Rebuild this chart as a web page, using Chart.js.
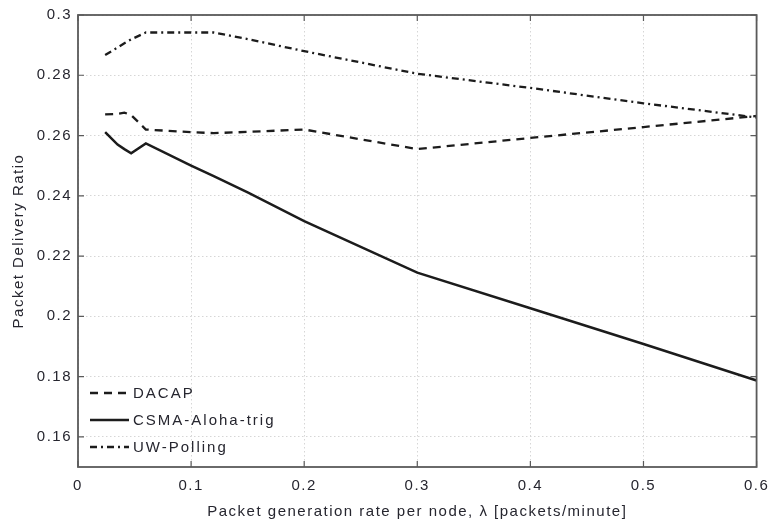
<!DOCTYPE html>
<html>
<head>
<meta charset="utf-8">
<title>Packet Delivery Ratio</title>
<script src="https://cdn.jsdelivr.net/npm/chart.js@4.4.1/dist/chart.umd.min.js"></script>
<style>
  html, body { margin: 0; padding: 0; background: #fff; }
  #wrap { width: 777px; height: 525px; }
</style>
</head>
<body>
<div id="wrap"><canvas id="pdrChart" width="777" height="525"></canvas></div>
<script>
// lambda values (packets/minute) where the curves were sampled
const lambdaValues = [0.024, 0.035, 0.041, 0.047, 0.06, 0.1, 0.12, 0.15, 0.2, 0.3, 0.4, 0.5, 0.6];

const dacapValues = [0.267, 0.2672, 0.2676, 0.2668, 0.262, 0.2611, 0.2608, 0.2612, 0.262, 0.2555, 0.2592, 0.2628, 0.2665];
const csmaValues = [0.2611, 0.257, 0.2555, 0.2541, 0.2574, 0.25, 0.2465, 0.2411, 0.2316, 0.2145, 0.2027, 0.1908, 0.1787];
const pollingValues = [0.2867, 0.2892, 0.2906, 0.2919, 0.2942, 0.2942, 0.2942, 0.292, 0.288, 0.2805, 0.2758, 0.2707, 0.266];

const seriesLabels = ["DACAP", "CSMA-Aloha-trig", "UW-Polling"];

const xTicks = [0, 0.1, 0.2, 0.3, 0.4, 0.5, 0.6];
const yTicks = [0.16, 0.18, 0.2, 0.22, 0.24, 0.26, 0.28, 0.3];

const LINE = "#1c1c1c";
const TEXT = "#26262f";
const FONT = "'Liberation Sans', Arial, sans-serif";

const toPoints = (vals) => lambdaValues.map((x, i) => ({ x, y: vals[i] }));

// matlab-ish box with inward tick marks + legend in the lower-left corner
const boxPlugin = {
  id: "box",
  beforeDraw(chart) {
    chart.ctx.letterSpacing = "1.5px";
  },
  afterDraw(chart) {
    const { ctx, chartArea: a, scales } = chart;
    ctx.save();
    ctx.letterSpacing = "0px";
    ctx.strokeStyle = "#5a5a5a";
    ctx.lineWidth = 1.8;
    ctx.strokeRect(a.left, a.top, a.right - a.left, a.bottom - a.top);

    const tl = 6;
    ctx.lineWidth = 1.2;
    ctx.beginPath();
    xTicks.forEach((v) => {
      const px = scales.x.getPixelForValue(v);
      ctx.moveTo(px, a.bottom);
      ctx.lineTo(px, a.bottom - tl);
      ctx.moveTo(px, a.top);
      ctx.lineTo(px, a.top + tl);
    });
    yTicks.forEach((v) => {
      const py = scales.y.getPixelForValue(v);
      ctx.moveTo(a.left, py);
      ctx.lineTo(a.left + tl, py);
      ctx.moveTo(a.right, py);
      ctx.lineTo(a.right - tl, py);
    });
    ctx.stroke();

    // legend
    const rows = [393, 420, 447];
    ctx.font = "15px " + FONT;
    ctx.letterSpacing = "2px";
    ctx.textBaseline = "middle";
    ctx.fillStyle = TEXT;
    chart.data.datasets.forEach((ds, i) => {
      const y = rows[i];
      ctx.save();
      ctx.strokeStyle = ds.borderColor;
      ctx.lineWidth = ds.borderWidth;
      ctx.setLineDash(ds.borderDash || []);
      ctx.beginPath();
      ctx.moveTo(90, y);
      ctx.lineTo(129, y);
      ctx.stroke();
      ctx.restore();
      ctx.fillText(ds.label, 133, y + 1);
    });
    ctx.restore();
  },
};

const ctx = document.getElementById("pdrChart");

new Chart(ctx, {
  type: "line",
  data: {
    datasets: [
      {
        label: seriesLabels[0],
        data: toPoints(dacapValues),
        borderColor: LINE,
        borderWidth: 2.3,
        borderDash: [8, 6],
        pointRadius: 0,
        tension: 0,
      },
      {
        label: seriesLabels[1],
        data: toPoints(csmaValues),
        borderColor: LINE,
        borderWidth: 2.5,
        pointRadius: 0,
        tension: 0,
      },
      {
        label: seriesLabels[2],
        data: toPoints(pollingValues),
        borderColor: LINE,
        borderWidth: 2.3,
        borderDash: [7, 4, 2, 4],
        pointRadius: 0,
        tension: 0,
      },
    ],
  },
  options: {
    responsive: false,
    animation: false,
    devicePixelRatio: 1,
    layout: { padding: { left: 0, right: 15, top: 15, bottom: 0 } },
    plugins: {
      legend: { display: false },
      tooltip: { enabled: false },
    },
    scales: {
      x: {
        type: "linear",
        min: 0,
        max: 0.6,
        afterBuildTicks: (axis) => { axis.ticks = xTicks.map((v) => ({ value: v })); },
        afterFit: (axis) => { axis.height = 58; },
        ticks: {
          color: TEXT,
          font: { family: FONT, size: 15 },
          padding: 10,
          maxRotation: 0,
          callback: (v) => String(v),
        },
        grid: { color: "#d6d6d6", drawTicks: false, lineWidth: 1 },
        border: { display: false, dash: [1.5, 2.5] },
        title: {
          display: true,
          text: "Packet generation rate per node, \u03bb [packets/minute]",
          color: TEXT,
          font: { family: FONT, size: 15 },
          padding: { top: 0, bottom: 4 },
        },
      },
      y: {
        type: "linear",
        min: 0.15,
        max: 0.3,
        afterBuildTicks: (axis) => { axis.ticks = yTicks.map((v) => ({ value: v })); },
        afterFit: (axis) => { axis.width = 78; },
        ticks: {
          color: TEXT,
          font: { family: FONT, size: 15 },
          padding: 6,
          callback: (v) => String(v),
        },
        grid: { color: "#d6d6d6", drawTicks: false, lineWidth: 1 },
        border: { display: false, dash: [1.5, 2.5] },
        title: {
          display: true,
          text: "Packet Delivery Ratio",
          color: TEXT,
          font: { family: FONT, size: 15 },
          padding: { top: 10, bottom: 0 },
        },
      },
    },
  },
  plugins: [boxPlugin],
});
</script>
</body>
</html>
